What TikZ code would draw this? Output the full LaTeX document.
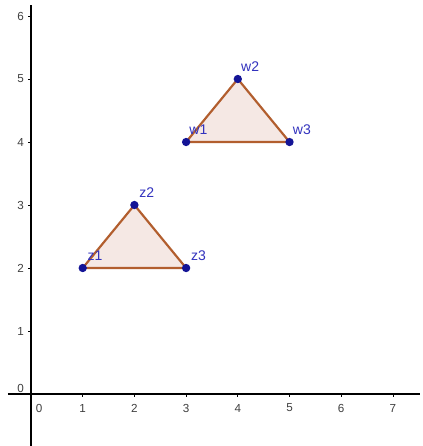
\documentclass[tikz,border=0pt]{standalone}
\usepackage{fontspec}
\setmainfont{Liberation Sans}
\begin{document}
\begin{tikzpicture}[x=31.02pt,y=37.8pt,
  axisline/.style={line width=0.9pt,black},
  tickmark/.style={line width=0.5pt,black},
  ticklab/.style={font=\fontsize{7pt}{8pt}\selectfont,text=black!75,inner sep=0pt},
  tri/.style={draw=edgecol,line width=1.3pt,fill=fillcol,line join=round},
  ptdot/.style={circle,fill=dotcol,inner sep=0pt,minimum size=5pt},
  ptlab/.style={font=\fontsize{8.4pt}{9pt}\selectfont,text=labcol,inner sep=0pt}]
\definecolor{edgecol}{RGB}{178,94,46}
\definecolor{fillcol}{RGB}{245,232,228}
\definecolor{dotcol}{RGB}{20,20,150}
\definecolor{labcol}{RGB}{50,50,190}
\useasboundingbox[fill=white] (-0.5996,-0.825) rectangle (7.582,6.254);
% axes
\coordinate (xl) at (-0.445,0);
\coordinate (xr) at (7.524,0);
\coordinate (yb) at (0,-0.825);
\coordinate (yt) at (0,6.175);
\draw[axisline] (xl) -- (xr);
\draw[axisline] (yb) -- (yt);
% ticks and labels
\foreach \i in {1,...,7} {
  \draw[tickmark] (\i,0) -- (\i,-0.055);
  \node[ticklab] at (\i,-0.222) {\i};
}
\node[ticklab] at (0.155,-0.222) {0};
\foreach \j in {1,...,6} {
  \draw[tickmark] (0,\j) -- (-0.065,\j);
  \node[ticklab] at (-0.203,\j) {\j};
}
\node[ticklab] at (-0.203,0.08) {0};
% triangles
\coordinate (pw1) at (3,4);
\coordinate (pw2) at (4,5);
\coordinate (pw3) at (5,4);
\coordinate (pz1) at (1,2);
\coordinate (pz2) at (2,3);
\coordinate (pz3) at (3,2);
\draw[tri] (pw1) -- (pw2) -- (pw3) -- cycle;
\draw[tri] (pz1) -- (pz2) -- (pz3) -- cycle;
\foreach \p in {w1,w2,w3,z1,z2,z3} {
  \node[ptdot] (\p) at (p\p) {};
  \node[ptlab,xshift=7.4pt,yshift=7.4pt] (l\p) at (p\p) {\p};
}
\end{tikzpicture}
\end{document}
